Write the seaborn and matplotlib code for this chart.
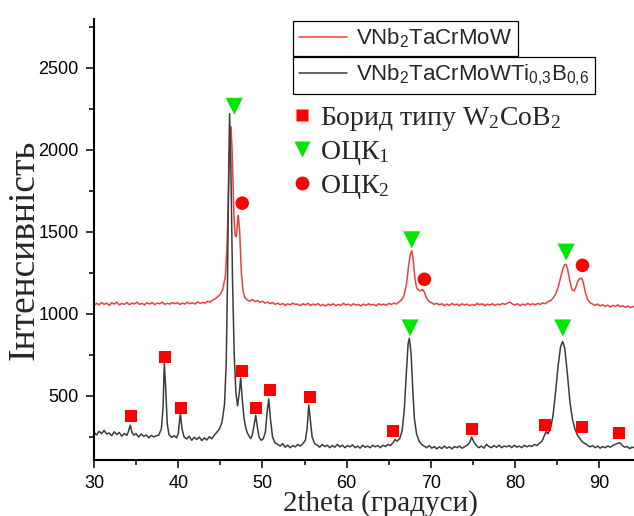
import matplotlib
matplotlib.use('Agg')
import matplotlib.pyplot as plt
import seaborn as sns
from matplotlib.lines import Line2D

# VNb2TaCrMoW (red curve)
red_2theta = [30.0, 30.3, 30.6, 30.9, 31.2, 31.5, 31.8, 32.1, 32.4, 32.7, 33.0, 33.3, 33.6, 33.9,
              34.2, 34.5, 34.8, 35.1, 35.4, 35.7, 36.0, 36.3, 36.6, 36.9, 37.2, 37.5, 37.8, 38.1,
              38.4, 38.7, 39.0, 39.3, 39.6, 39.9, 40.2, 40.5, 40.8, 41.1, 41.4, 41.7, 42.0, 42.3,
              42.6, 42.9, 43.2, 43.5, 43.8, 44.1, 44.4, 44.7, 45.0, 45.3, 45.6, 45.8, 46.0, 46.15,
              46.27, 46.4, 46.6, 46.75, 46.9, 47.05, 47.14, 47.3, 47.5, 47.7, 47.9, 48.2, 48.5, 48.8,
              49.1, 49.4, 49.7, 50.0, 50.3, 50.6, 50.9, 51.2, 51.5, 51.8, 52.1, 52.4, 52.7, 53.0,
              53.3, 53.6, 53.9, 54.2, 54.5, 54.8, 55.1, 55.4, 55.7, 56.0, 56.3, 56.6, 56.9, 57.2,
              57.5, 57.8, 58.1, 58.4, 58.7, 59.0, 59.3, 59.6, 59.9, 60.2, 60.5, 60.8, 61.1, 61.4,
              61.7, 62.0, 62.3, 62.6, 62.9, 63.2, 63.5, 63.8, 64.1, 64.4, 64.7, 65.0, 65.3, 65.6,
              65.9, 66.2, 66.5, 66.8, 67.1, 67.35, 67.55, 67.73, 67.9, 68.1, 68.3, 68.55, 68.8, 69.04,
              69.25, 69.5, 69.8, 70.1, 70.4, 70.7, 71.0, 71.3, 71.6, 71.9, 72.2, 72.5, 72.8, 73.1,
              73.4, 73.7, 74.0, 74.3, 74.6, 74.9, 75.2, 75.5, 75.8, 76.1, 76.4, 76.7, 77.0, 77.3,
              77.6, 77.9, 78.2, 78.5, 78.8, 79.1, 79.4, 79.7, 80.0, 80.3, 80.6, 80.9, 81.2, 81.5,
              81.8, 82.1, 82.4, 82.7, 83.0, 83.3, 83.6, 83.9, 84.2, 84.5, 84.8, 85.1, 85.4, 85.7,
              85.9, 86.06, 86.25, 86.5, 86.75, 87.0, 87.2, 87.45, 87.7, 87.9, 88.1, 88.35, 88.6, 88.9,
              89.2, 89.5, 89.8, 90.1, 90.4, 90.7, 91.0, 91.3, 91.6, 91.9, 92.2, 92.5, 92.8, 93.1,
              93.4, 93.7, 94.0, 94.2]
red_int = [1050, 1065, 1055, 1070, 1058, 1066, 1052, 1068, 1060, 1072, 1055, 1064, 1058, 1070,
           1056, 1066, 1060, 1072, 1058, 1065, 1055, 1068, 1060, 1070, 1057, 1066, 1062, 1072,
           1058, 1065, 1060, 1070, 1062, 1068, 1058, 1066, 1060, 1072, 1062, 1068, 1060, 1074,
           1064, 1070, 1066, 1078, 1072, 1085, 1092, 1105, 1120, 1150, 1230, 1420, 1800, 2080,
           2140, 2000, 1620, 1480, 1470, 1560, 1600, 1500, 1250, 1140, 1100, 1085, 1078, 1088,
           1075, 1082, 1070, 1078, 1066, 1072, 1062, 1070, 1058, 1066, 1056, 1064, 1052, 1062,
           1055, 1066, 1058, 1060, 1050, 1062, 1055, 1065, 1052, 1060, 1054, 1063, 1050, 1058,
           1048, 1060, 1052, 1062, 1050, 1058, 1052, 1064, 1055, 1060, 1050, 1062, 1054, 1058,
           1048, 1060, 1052, 1062, 1055, 1058, 1050, 1062, 1055, 1060, 1052, 1064, 1058, 1066,
           1060, 1072, 1085, 1110, 1180, 1290, 1360, 1385, 1330, 1220, 1160, 1145, 1140, 1150,
           1130, 1095, 1075, 1068, 1058, 1065, 1055, 1062, 1050, 1060, 1052, 1064, 1055, 1060,
           1050, 1062, 1054, 1060, 1050, 1058, 1052, 1064, 1056, 1062, 1050, 1060, 1054, 1062,
           1052, 1060, 1055, 1064, 1058, 1066, 1072, 1060, 1055, 1062, 1050, 1060, 1054, 1064,
           1056, 1062, 1055, 1064, 1058, 1068, 1062, 1075, 1080, 1095, 1120, 1160, 1220, 1280,
           1300, 1302, 1270, 1200, 1150, 1140, 1160, 1200, 1215, 1218, 1190, 1130, 1090, 1068,
           1060, 1052, 1060, 1048, 1056, 1045, 1054, 1042, 1052, 1045, 1055, 1044, 1050, 1040,
           1048, 1038, 1046, 1040]

# VNb2TaCrMoWTi0.3B0.6 (dark curve)
dark_2theta = [30.0, 30.3, 30.6, 30.9, 31.2, 31.5, 31.8, 32.1, 32.4, 32.7, 33.0, 33.3, 33.6, 33.9,
               34.1, 34.3, 34.5, 34.7, 35.0, 35.3, 35.6, 35.9, 36.2, 36.5, 36.8, 37.1, 37.4, 37.7,
               38.0, 38.2, 38.35, 38.5, 38.7, 38.9, 39.2, 39.5, 39.8, 40.0, 40.25, 40.45, 40.7, 41.0,
               41.3, 41.6, 41.9, 42.2, 42.5, 42.8, 43.1, 43.4, 43.7, 44.0, 44.3, 44.6, 44.9, 45.2,
               45.5, 45.7, 45.85, 46.0, 46.1, 46.25, 46.45, 46.65, 46.85, 47.05, 47.25, 47.42, 47.6, 47.8,
               48.0, 48.2, 48.4, 48.6, 48.8, 49.0, 49.2, 49.4, 49.6, 49.85, 50.1, 50.35, 50.55, 50.75,
               50.95, 51.2, 51.5, 51.8, 52.1, 52.4, 52.7, 53.0, 53.3, 53.6, 53.9, 54.2, 54.5, 54.8,
               55.1, 55.3, 55.5, 55.7, 55.9, 56.2, 56.5, 56.8, 57.1, 57.4, 57.7, 58.0, 58.3, 58.6,
               58.9, 59.2, 59.5, 59.8, 60.1, 60.4, 60.7, 61.0, 61.3, 61.6, 61.9, 62.2, 62.5, 62.8,
               63.1, 63.4, 63.7, 64.0, 64.3, 64.6, 64.9, 65.2, 65.5, 65.75, 66.0, 66.3, 66.6, 66.85,
               67.1, 67.3, 67.45, 67.65, 67.85, 68.05, 68.3, 68.6, 68.9, 69.2, 69.5, 69.8, 70.1, 70.4,
               70.7, 71.0, 71.3, 71.6, 71.9, 72.2, 72.5, 72.8, 73.1, 73.4, 73.7, 74.0, 74.3, 74.6,
               74.85, 75.1, 75.4, 75.7, 76.0, 76.3, 76.6, 76.9, 77.2, 77.5, 77.8, 78.1, 78.4, 78.7,
               79.0, 79.3, 79.6, 79.9, 80.2, 80.5, 80.8, 81.1, 81.4, 81.7, 82.0, 82.3, 82.6, 82.9,
               83.2, 83.5, 83.7, 83.9, 84.2, 84.5, 84.8, 85.1, 85.4, 85.66, 85.9, 86.2, 86.5, 86.8,
               87.1, 87.4, 87.7, 88.0, 88.3, 88.6, 88.9, 89.2, 89.5, 89.8, 90.1, 90.4, 90.7, 91.0,
               91.3, 91.6, 91.9, 92.2, 92.45, 92.7, 93.0, 93.3, 93.6, 93.9, 94.2]
dark_int = [280, 262, 285, 270, 290, 268, 275, 258, 282, 265, 278, 255, 272, 260,
            285, 322, 280, 262, 270, 250, 268, 255, 262, 245, 260, 250, 258, 262,
            300, 430, 700, 560, 330, 265, 248, 258, 245, 270, 395, 300, 250, 238,
            255, 230, 248, 235, 250, 228, 245, 232, 252, 240, 262, 280, 300, 340,
            450, 700, 1200, 1900, 2220, 1900, 1200, 750, 520, 440, 520, 610, 480, 370,
            310, 275, 258, 240, 262, 320, 382, 310, 250, 230, 240, 280, 400, 482,
            360, 250, 215, 205, 195, 210, 188, 200, 185, 198, 190, 205, 195, 210,
            230, 300, 445, 350, 250, 210, 200, 188, 205, 192, 200, 185, 198, 188,
            205, 190, 200, 185, 198, 190, 202, 185, 195, 182, 200, 188, 195, 185,
            200, 190, 198, 185, 200, 192, 205, 198, 215, 235, 225, 240, 290, 420,
            650, 820, 852, 760, 540, 360, 270, 225, 205, 195, 185, 198, 182, 192,
            178, 190, 180, 195, 182, 190, 178, 192, 185, 195, 182, 190, 200, 215,
            250, 220, 198, 185, 195, 182, 205, 192, 185, 198, 188, 200, 185, 195,
            190, 198, 185, 200, 188, 195, 185, 200, 190, 198, 192, 205, 198, 212,
            225, 260, 285, 270, 300, 380, 520, 680, 800, 832, 790, 640, 470, 360,
            300, 262, 240, 220, 210, 200, 190, 198, 185, 195, 182, 192, 185, 195,
            188, 198, 205, 212, 215, 200, 188, 192, 180, 188, 185]

# phase markers
boride_2theta = [34.35, 38.4, 40.33, 47.6, 49.2, 50.9, 55.7, 65.5, 74.85, 83.6, 87.9, 92.35]
boride_int = [380, 739, 429, 652, 429, 535, 494, 289, 298, 322, 312, 277]
bcc1_2theta = [46.66, 67.73, 86.06, 67.53, 85.66]
bcc1_int = [2265, 1452, 1377, 915, 915]
bcc2_2theta = [47.6, 69.23, 88.0]
bcc2_int = [1675, 1211, 1296]

red_line = '#e8413f'
dark_line = '#3c3c3c'
marker_red = '#ff0000'
marker_green = '#00e600'

sns.set_style('ticks')
plt.rcParams['font.family'] = ['Liberation Sans', 'DejaVu Sans']

fig = plt.figure(figsize=(6.34, 5.16), dpi=100)
ax = fig.add_axes([94 / 634, 1 - 460 / 516, 540 / 634, 441 / 516])

sns.lineplot(x=red_2theta, y=red_int, ax=ax, color=red_line, linewidth=1.1,
             estimator=None, sort=False)
sns.lineplot(x=dark_2theta, y=dark_int, ax=ax, color=dark_line, linewidth=1.1,
             estimator=None, sort=False)

sns.scatterplot(x=boride_2theta, y=boride_int, ax=ax, marker='s', s=75,
                color=marker_red, edgecolor='none', zorder=5)
sns.scatterplot(x=bcc1_2theta, y=bcc1_int, ax=ax, marker='v', s=150,
                color=marker_green, edgecolor='none', zorder=5)
sns.scatterplot(x=bcc2_2theta, y=bcc2_int, ax=ax, marker='o', s=95,
                color=marker_red, edgecolor='none', zorder=5)

ax.set_xlim(30, 94.12)
ax.set_ylim(110, 2797)
ax.set_xticks([30, 40, 50, 60, 70, 80, 90])
ax.set_xticks([35, 45, 55, 65, 75, 85], minor=True)
ax.set_yticks([500, 1000, 1500, 2000, 2500])
ax.set_yticks([250, 750, 1250, 1750, 2250, 2750], minor=True)

sns.despine(ax=ax, top=True, right=True)
for side in ['left', 'bottom']:
    ax.spines[side].set_linewidth(1.5)
    ax.spines[side].set_color('black')
ax.tick_params(which='major', direction='out', length=6, width=1.1, color='black',
               labelsize=13, pad=5, labelcolor='black')
ax.tick_params(which='minor', direction='out', length=3.5, width=1.1, color='black')

ax.set_xlabel('2theta (градуси)', family='Liberation Serif', fontsize=21)
ax.set_ylabel('Інтенсивність', family='Liberation Serif', fontsize=27)
ax.xaxis.set_label_coords(0.53, -0.069)
ax.yaxis.set_label_coords(-0.097, 0.476)

# two boxed legends for the curves
leg1 = ax.legend(handles=[Line2D([], [], color=red_line, lw=1.1)],
                 labels=[r'VNb$\mathregular{_2}$TaCrMoW'],
                 loc='upper left', bbox_to_anchor=(0.3685, 0.9955), borderaxespad=0,
                 fontsize=16, frameon=True, fancybox=False, edgecolor='black',
                 framealpha=1, borderpad=0.25, handlelength=2.2, handletextpad=0.4)
leg1.get_frame().set_linewidth(0.9)
ax.add_artist(leg1)

leg2 = ax.legend(handles=[Line2D([], [], color=dark_line, lw=1.1)],
                 labels=[r'VNb$\mathregular{_2}$TaCrMoWTi$\mathregular{_{0{,}3}}$B$\mathregular{_{0{,}6}}$'],
                 loc='upper left', bbox_to_anchor=(0.3685, 0.9138), borderaxespad=0,
                 fontsize=16, frameon=True, fancybox=False, edgecolor='black',
                 framealpha=1, borderpad=0.25, handlelength=2.2, handletextpad=0.4)
leg2.get_frame().set_linewidth(0.9)
ax.add_artist(leg2)

# phase legend
phase_handles = [
    Line2D([], [], ls='none', marker='s', ms=8.5, color=marker_red, mec='none'),
    Line2D([], [], ls='none', marker='v', ms=12, color=marker_green, mec='none'),
    Line2D([], [], ls='none', marker='o', ms=10, color=marker_red, mec='none'),
]
phase_labels = [r'Борид типу W$\mathregular{_2}$CoB$\mathregular{_2}$',
                r'ОЦК$\mathregular{_1}$', r'ОЦК$\mathregular{_2}$']
leg3 = ax.legend(handles=phase_handles, labels=phase_labels, loc='upper left',
                 bbox_to_anchor=(0.365, 0.805), borderaxespad=0, borderpad=0,
                 frameon=False, handlelength=0.8, handletextpad=0.25, labelspacing=0.22,
                 prop={'family': 'Liberation Serif', 'size': 20})

fig.savefig('out.png', dpi=100, facecolor='white')
